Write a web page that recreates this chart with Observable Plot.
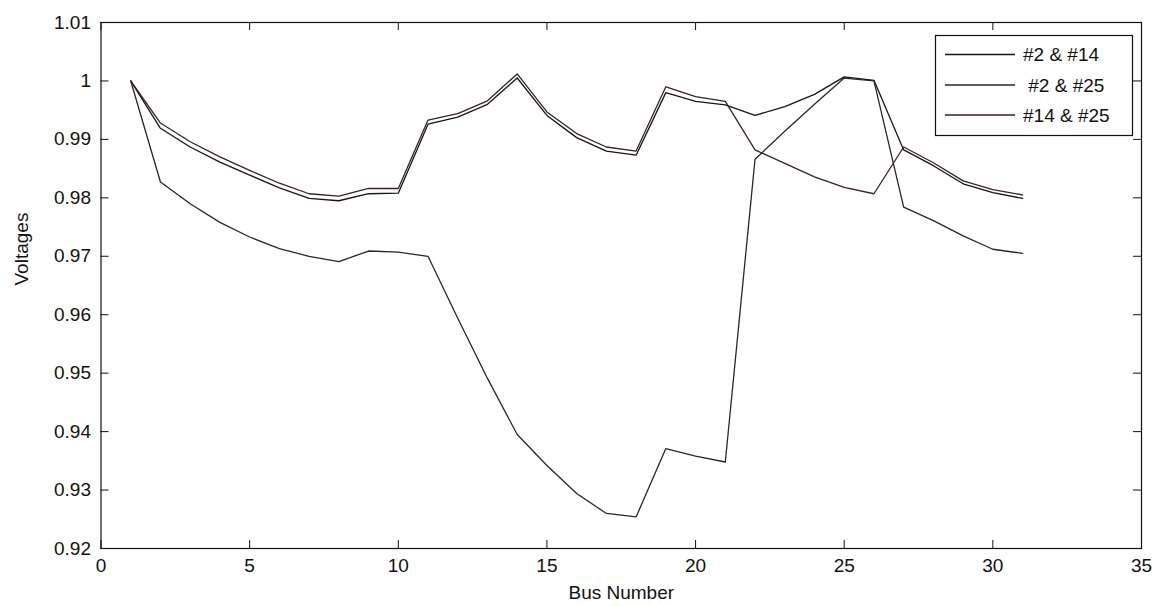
<!DOCTYPE html>
<html>
<head>
<meta charset="utf-8">
<script src="https://cdn.jsdelivr.net/npm/d3@7"></script>
<script src="https://cdn.jsdelivr.net/npm/@observablehq/plot@0.6"></script>
<style>
  html, body { margin: 0; padding: 0; background: #fff; }
  #chart svg { display: block; }
</style>
</head>
<body>
<div id="chart"></div>
<script>
// Bus voltage profiles for three double-outage cases
const busNumbers = [1, 2, 3, 4, 5, 6, 7, 8, 9, 10, 11, 12, 13, 14, 15, 16,
  17, 18, 19, 20, 21, 22, 23, 24, 25, 26, 27, 28, 29, 30, 31];

const seriesNames = ["#2 & #14", " #2 & #25", "#14 & #25"];
const seriesColors = ["#161616", "#26262c", "#3a2222"];

const voltages_2_14 = [1.0000, 0.9919, 0.9887, 0.9861, 0.9839, 0.9817, 0.9799, 0.9795,
  0.9807, 0.9808, 0.9926, 0.9938, 0.9960, 1.0005, 0.9941, 0.9903, 0.9880, 0.9873,
  0.9980, 0.9965, 0.9959, 0.9941, 0.9956, 0.9977, 1.0007, 1.0001, 0.9882, 0.9855,
  0.9824, 0.9809, 0.9799];

const voltages_2_25 = [1.0000, 0.9827, 0.9790, 0.9758, 0.9733, 0.9713, 0.9700, 0.9691,
  0.9709, 0.9707, 0.9700, 0.9594, 0.9491, 0.9395, 0.9342, 0.9294, 0.9260, 0.9254,
  0.9371, 0.9358, 0.9348, 0.9866, 0.9914, 0.9960, 1.0005, 1.0000, 0.9784, 0.9761,
  0.9735, 0.9712, 0.9705];

const voltages_14_25 = [1.0000, 0.9928, 0.9896, 0.9870, 0.9847, 0.9825, 0.9807, 0.9803,
  0.9816, 0.9816, 0.9933, 0.9944, 0.9966, 1.0012, 0.9947, 0.9910, 0.9887, 0.9880,
  0.9990, 0.9973, 0.9965, 0.9882, 0.9859, 0.9836, 0.9818, 0.9807, 0.9887, 0.9860,
  0.9829, 0.9814, 0.9805];

const xTicks = [0, 5, 10, 15, 20, 25, 30, 35];
const yTicks = [0.92, 0.93, 0.94, 0.95, 0.96, 0.97, 0.98, 0.99, 1.00, 1.01];
const yTickLabels = ["0.92", "0.93", "0.94", "0.95", "0.96", "0.97", "0.98", "0.99", "1", "1.01"];

const xLabel = "Bus Number";
const yLabel = "Voltages";

// long-format table for the line mark
const seriesValues = [voltages_2_14, voltages_2_25, voltages_14_25];
const rows = [];
seriesValues.forEach((vals, s) => {
  busNumbers.forEach((b, i) => rows.push({ series: seriesNames[s], bus: b, v: vals[i] }));
});

// layout
const W = 1160, H = 606;
const mL = 100.5, mR = 19, mT = 22, mB = 58;
const innerW = W - mL - mR, innerH = H - mT - mB;
const tickLen = 8;
const font = "'Liberation Sans', Arial, Helvetica, sans-serif";

const chart = Plot.plot({
  width: W,
  height: H,
  marginLeft: mL,
  marginRight: mR,
  marginTop: mT,
  marginBottom: mB,
  style: { fontFamily: font, fontSize: "19px", background: "#fff", color: "#111" },
  x: { domain: [0, 35] },
  y: { domain: [0.92, 1.01] },
  color: { domain: seriesNames, range: seriesColors },
  marks: [
    // inward ticks on all four sides (box style)
    Plot.tickX(xTicks, { x: d => d, insetTop: innerH - tickLen, stroke: "#111" }),
    Plot.tickX(xTicks, { x: d => d, insetBottom: innerH - tickLen, stroke: "#111" }),
    Plot.tickY(yTicks, { y: d => d, insetRight: innerW - tickLen, stroke: "#111" }),
    Plot.tickY(yTicks, { y: d => d, insetLeft: innerW - tickLen, stroke: "#111" }),
    Plot.axisX(xTicks, { tickSize: 0, tickPadding: 10, label: null, tickFormat: d => String(d) }),
    Plot.axisY(yTicks, { tickSize: 0, tickPadding: 10, label: null,
      tickFormat: d => yTickLabels[yTicks.indexOf(d)] }),
    Plot.line(rows, { x: "bus", y: "v", z: "series", stroke: "series", strokeWidth: 1.3 }),
    Plot.frame({ stroke: "#111", strokeWidth: 1.2 }),
    Plot.text([xLabel], { frameAnchor: "bottom", dy: 44, lineAnchor: "middle", text: d => d, fill: "#111" }),
    Plot.text([yLabel], { frameAnchor: "left", dx: -79, rotate: -90, lineAnchor: "middle", text: d => d, fill: "#111" })
  ]
});

document.getElementById("chart").appendChild(chart);

// boxed legend in the upper right corner of the axes
const svg = d3.select(chart);
const legend = svg.append("g")
  .attr("font-family", font)
  .attr("font-size", 19)
  .attr("text-anchor", "start");
const box = { x: 935.5, y: 35.5, w: 197, h: 100 };
legend.append("rect")
  .attr("x", box.x).attr("y", box.y).attr("width", box.w).attr("height", box.h)
  .attr("fill", "#fff").attr("stroke", "#111").attr("stroke-width", 1.2);
const rowY = [54.5, 85, 115];
seriesNames.forEach((name, i) => {
  legend.append("line")
    .attr("x1", 945).attr("x2", 1015).attr("y1", rowY[i]).attr("y2", rowY[i])
    .attr("stroke", seriesColors[i]).attr("stroke-width", 1.3);
  legend.append("text")
    .attr("x", 1023).attr("y", rowY[i]).attr("dy", "0.35em")
    .attr("text-anchor", "start")
    .attr("fill", "#111")
    .style("white-space", "pre")
    .text(name);
});
</script>
</body>
</html>
